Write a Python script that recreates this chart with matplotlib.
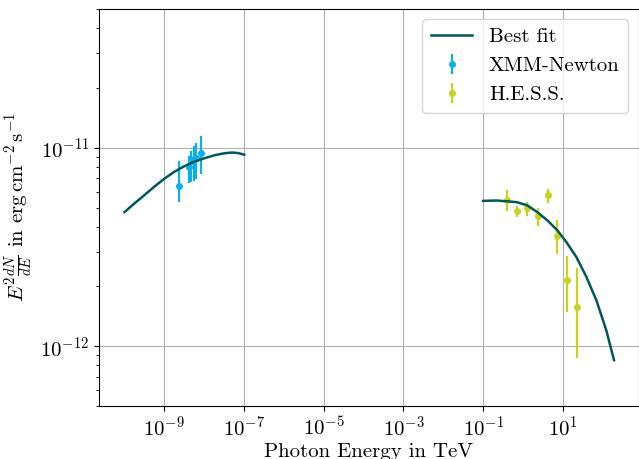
import matplotlib
matplotlib.use("Agg")
import matplotlib.pyplot as plt
from matplotlib.ticker import LogLocator, NullLocator, FixedLocator
import numpy as np

# X-ray data (XMM-Newton)
xmm_energy = [2.37e-9, 4.06e-9, 4.67e-9, 5.42e-9, 6.15e-9, 8.13e-9]
xmm_flux = [6.44e-12, 7.96e-12, 8.61e-12, 8.81e-12, 8.91e-12, 9.36e-12]
xmm_upper = [8.54e-12, 9.12e-12, 9.66e-12, 1.023e-11, 1.059e-11, 1.148e-11]
xmm_lower = [5.31e-12, 6.62e-12, 6.70e-12, 6.78e-12, 6.98e-12, 7.38e-12]

# gamma-ray data (H.E.S.S.)
hess_energy = [0.40, 0.72, 1.28, 2.32, 4.14, 7.36, 13.1, 22.8]
hess_flux = [5.46e-12, 4.82e-12, 4.98e-12, 4.55e-12, 5.76e-12, 3.61e-12, 2.15e-12, 1.57e-12]
hess_upper = [6.13e-12, 5.11e-12, 5.36e-12, 4.98e-12, 6.17e-12, 4.35e-12, 2.86e-12, 2.48e-12]
hess_lower = [4.79e-12, 4.46e-12, 4.55e-12, 4.03e-12, 5.27e-12, 2.90e-12, 1.49e-12, 0.877e-12]

# best fit model
fit_x_energy = [1.0e-10, 1.77e-10, 3.15e-10, 5.61e-10, 1.0e-9, 1.78e-9, 3.17e-9,
                5.65e-9, 1.01e-8, 1.79e-8, 3.19e-8, 5.06e-8, 7.16e-8, 1.01e-7]
fit_x_flux = [4.74e-12, 5.24e-12, 5.77e-12, 6.37e-12, 6.98e-12, 7.57e-12, 8.07e-12,
              8.51e-12, 8.85e-12, 9.16e-12, 9.38e-12, 9.46e-12, 9.40e-12, 9.23e-12]
fit_g_energy = [0.1, 0.218, 0.411, 0.70, 1.30, 2.32, 4.14, 7.36, 12.4, 22.0, 39.3, 70.0, 124.0, 193.0]
fit_g_flux = [5.40e-12, 5.42e-12, 5.37e-12, 5.32e-12, 5.12e-12, 4.73e-12, 4.30e-12,
              3.83e-12, 3.34e-12, 2.81e-12, 2.23e-12, 1.70e-12, 1.20e-12, 8.51e-13]

plt.rcParams['font.family'] = 'serif'
plt.rcParams['font.serif'] = ['cmr10']
plt.rcParams['mathtext.fontset'] = 'cm'
plt.rcParams['axes.formatter.use_mathtext'] = True
plt.rcParams['axes.unicode_minus'] = False
plt.rcParams['font.size'] = 15

fit_color = '#00585a'
xmm_color = '#0bb0e6'
hess_color = '#c6d41c'

fig = plt.figure(figsize=(6.39, 4.59), dpi=100)
ax = fig.add_axes([99 / 639, 53 / 459, 539.5 / 639, 397 / 459])

ax.plot(fit_x_energy, fit_x_flux, color=fit_color, lw=1.8, label='Best fit', zorder=3)
ax.plot(fit_g_energy, fit_g_flux, color=fit_color, lw=1.8, zorder=3)

xmm_err = [np.array(xmm_flux) - np.array(xmm_lower), np.array(xmm_upper) - np.array(xmm_flux)]
ax.errorbar(xmm_energy, xmm_flux, yerr=xmm_err, fmt='o', ms=4, lw=1.6,
            color=xmm_color, label='XMM-Newton', zorder=2)
hess_err = [np.array(hess_flux) - np.array(hess_lower), np.array(hess_upper) - np.array(hess_flux)]
ax.errorbar(hess_energy, hess_flux, yerr=hess_err, fmt='o', ms=4, lw=1.6,
            color=hess_color, label='H.E.S.S.', zorder=2)

ax.set_xscale('log')
ax.set_yscale('log')
ax.set_xlim(10 ** -10.64, 10 ** 2.9)
ax.set_ylim(5e-13, 5e-11)
ax.xaxis.set_major_locator(FixedLocator([1e-9, 1e-7, 1e-5, 1e-3, 1e-1, 1e1]))
ax.xaxis.set_minor_locator(NullLocator())
ax.yaxis.set_minor_locator(LogLocator(base=10, subs=np.arange(2, 10)))

ax.grid(True, which='major', color='#b0b0b0', lw=0.8)
ax.set_axisbelow(True)
ax.set_xlabel('Photon Energy in TeV', labelpad=2)
ax.set_ylabel(r'$E^2\frac{dN}{dE}$ in $\mathrm{erg\,cm^{-2}\,s^{-1}}$')

ax.legend(loc='upper right')

plt.savefig('out.png', dpi=100)
